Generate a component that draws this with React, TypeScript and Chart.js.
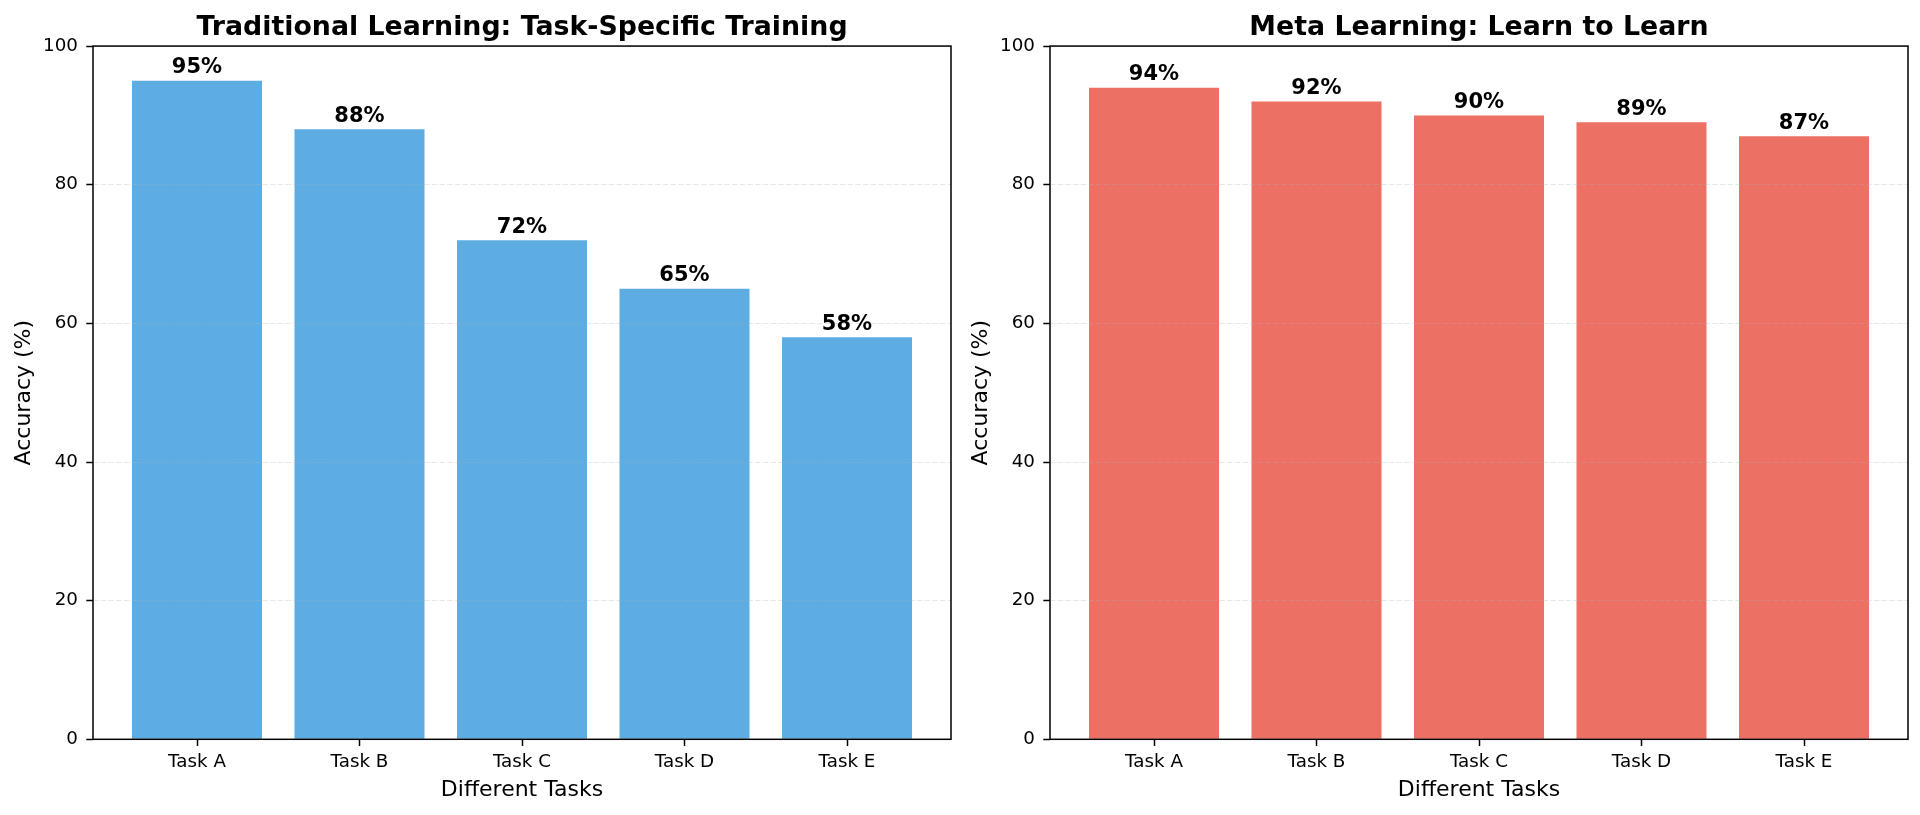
import { useEffect, useRef } from 'react';
import { Chart, registerables } from 'chart.js';

Chart.register(...registerables);

// Task categories shared by both panels
const tasks = ['Task A', 'Task B', 'Task C', 'Task D', 'Task E'];

// Accuracy per task (%)
const traditionalAccuracy = [95, 88, 72, 65, 58];
const metaAccuracy = [94, 92, 90, 89, 87];

// Y-axis tick values
const yTicks = [0, 20, 40, 60, 80, 100];

const FONT = '"DejaVu Sans", sans-serif';

// Outline the plot area on all four sides
const framePlugin = {
  id: 'frame',
  afterDraw(chart: any) {
    const { ctx, chartArea } = chart;
    const { left, top, right, bottom } = chartArea;
    ctx.save();
    ctx.strokeStyle = '#000';
    ctx.lineWidth = 1.5;
    ctx.strokeRect(left, top, right - left, bottom - top);
    ctx.restore();
  },
};

// Bold percentage above each bar
const valueLabelPlugin = {
  id: 'valueLabels',
  afterDraw(chart: any) {
    const { ctx } = chart;
    const meta = chart.getDatasetMeta(0);
    const ds = chart.data.datasets[0];
    ctx.save();
    ctx.font = `bold 21px ${FONT}`;
    ctx.fillStyle = '#000';
    ctx.textAlign = 'center';
    ctx.textBaseline = 'alphabetic';
    meta.data.forEach((bar: any, i: number) => {
      const v = ds.data[i].y;
      ctx.fillText(`${v}%`, bar.x, bar.y - 7.5);
    });
    ctx.restore();
  },
};

function Panel({ title, values, color, left }: { title: string; values: number[]; color: string; left: number }) {
  const ref = useRef<HTMLCanvasElement | null>(null);

  useEffect(() => {
    if (!ref.current) return;
    const chart = new Chart(ref.current, {
      type: 'bar',
      data: {
        datasets: [
          {
            data: values.map((v, i) => ({ x: i, y: v })),
            backgroundColor: color,
            borderWidth: 0,
            barPercentage: 0.8,
            categoryPercentage: 1,
          },
        ],
      },
      options: {
        animation: false,
        responsive: false,
        maintainAspectRatio: false,
        devicePixelRatio: 1,
        layout: { padding: { left: 0, right: 9, top: 0, bottom: 0 } },
        plugins: {
          legend: { display: false },
          tooltip: { enabled: false },
          title: {
            display: true,
            text: title,
            fullSize: false,
            color: '#000',
            font: { family: FONT, size: 26.8, weight: 'bold', lineHeight: 1.2 },
            padding: { top: 11.5, bottom: 2.4 },
          },
        },
        scales: {
          x: {
            type: 'linear',
            offset: false,
            min: -0.64,
            max: 4.64,
            afterBuildTicks: (s: any) => {
              s.ticks = tasks.map((_, i) => ({ value: i }));
            },
            afterFit: (s: any) => {
              s.height = 75.7;
            },
            ticks: {
              callback: (v: any) => tasks[v as number],
              autoSkip: false,
              maxRotation: 0,
              color: '#000',
              padding: 5.6,
              font: { family: FONT, size: 18.3 },
            },
            grid: {
              offset: false,
              drawOnChartArea: false,
              drawTicks: true,
              tickLength: 6.7,
              tickColor: '#000',
              tickWidth: 1.5,
            },
            border: { display: false },
            title: {
              display: true,
              text: 'Different Tasks',
              color: '#000',
              font: { family: FONT, size: 22 },
              padding: { top: 0, bottom: 11.3 },
            },
          },
          y: {
            min: 0,
            max: 100,
            afterBuildTicks: (s: any) => {
              s.ticks = yTicks.map((v) => ({ value: v }));
            },
            afterFit: (s: any) => {
              s.width = 93;
            },
            ticks: {
              color: '#000',
              padding: 8.3,
              font: { family: FONT, size: 18.3 },
            },
            grid: {
              color: 'rgba(176,176,176,0.3)',
              lineWidth: 1,
              z: 1,
              tickLength: 6.7,
              tickColor: '#000',
              tickWidth: 1.5,
            },
            border: { display: false, dash: [5.4, 2.3] },
            title: {
              display: true,
              text: 'Accuracy (%)',
              color: '#000',
              font: { family: FONT, size: 22 },
              padding: { top: 11, bottom: 0 },
            },
          },
        },
      } as any,
      plugins: [framePlugin, valueLabelPlugin],
    });
    return () => chart.destroy();
  }, [title, values, color]);

  return (
    <canvas
      ref={ref}
      width={960}
      height={815}
      style={{ position: 'absolute', left, top: 0, width: 960, height: 815 }}
    />
  );
}

export default function App() {
  return (
    <div
      style={{
        position: 'fixed',
        left: 0,
        top: 0,
        width: 1920,
        height: 815,
        background: '#fff',
        overflow: 'hidden',
      }}
    >
      <Panel
        title="Traditional Learning: Task-Specific Training"
        values={traditionalAccuracy}
        color="rgba(52,152,219,0.8)"
        left={0}
      />
      <Panel
        title="Meta Learning: Learn to Learn"
        values={metaAccuracy}
        color="rgba(231,76,60,0.8)"
        left={957}
      />
    </div>
  );
}
